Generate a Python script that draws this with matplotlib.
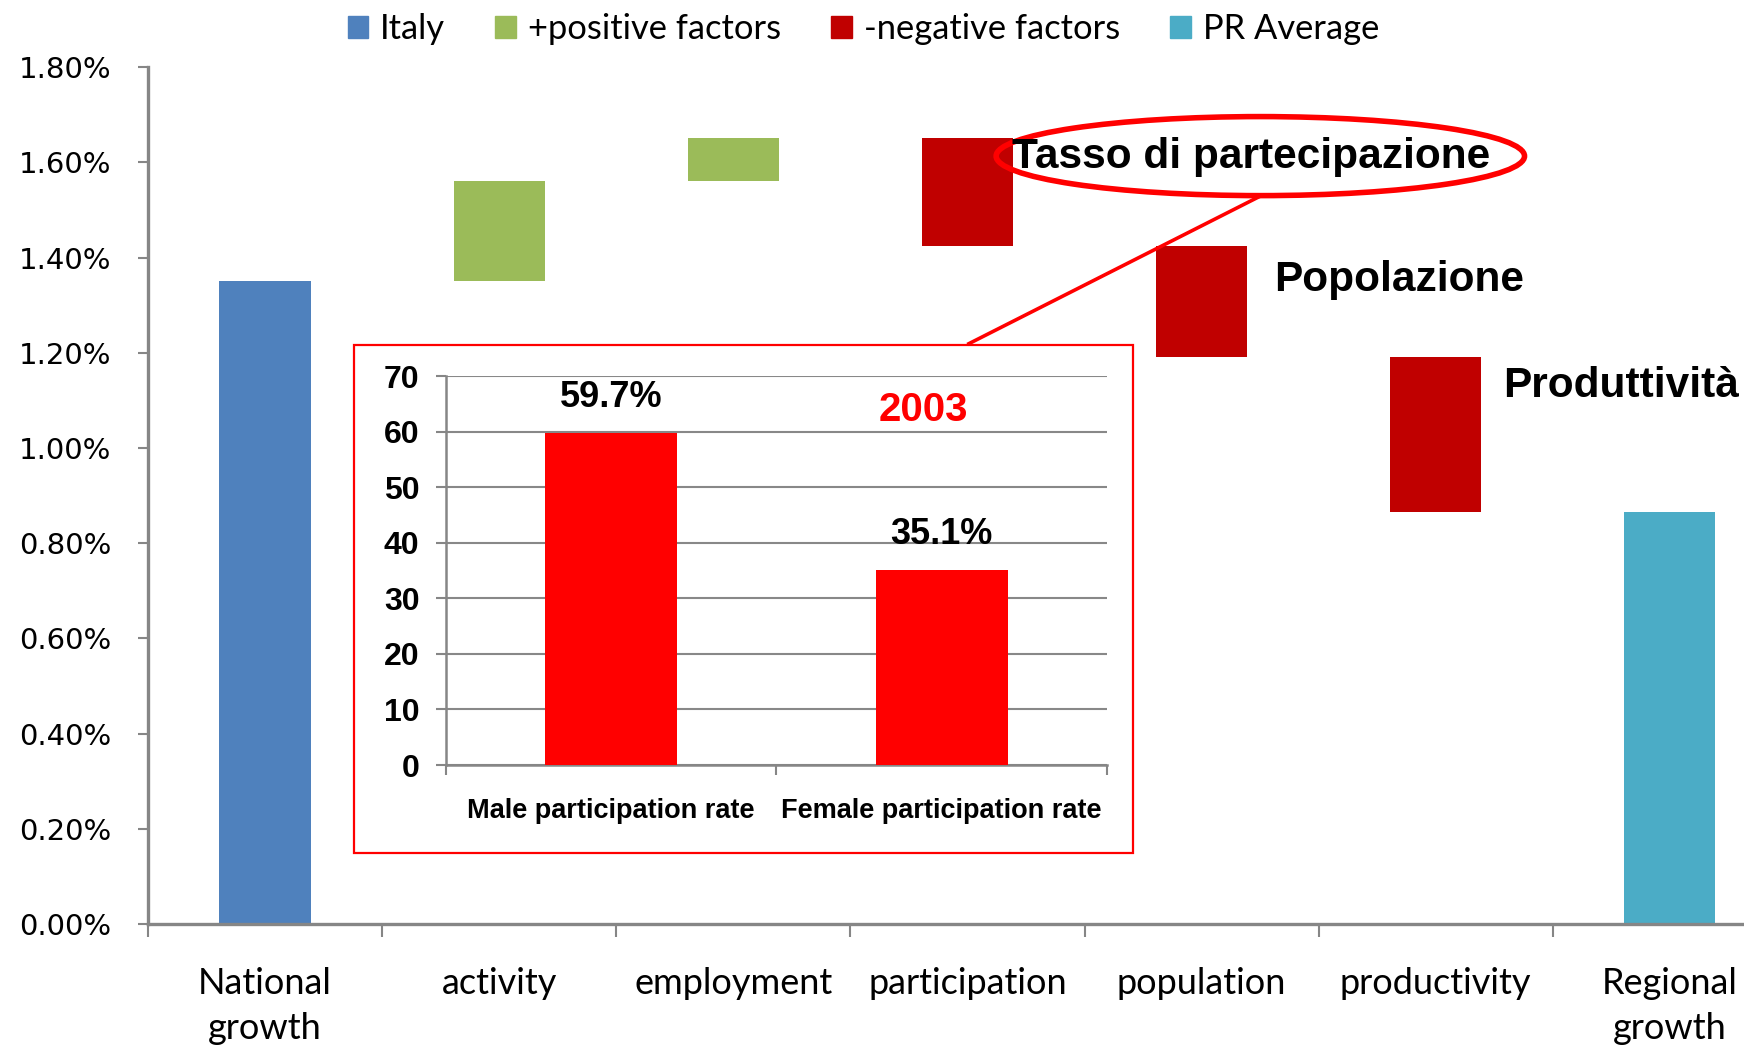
import numpy as np
import matplotlib
matplotlib.use('Agg')
import matplotlib.pyplot as plt
from matplotlib.patches import Patch, Rectangle, Ellipse

# Werte (in Prozent)
categories = ['National\ngrowth', 'activity', 'employment', 'participation',
              'population', 'productivity', 'Regional\ngrowth']
national = 1.35
changes = [0.21, 0.09, -0.225, -0.235, -0.325]
regional = 0.865

# Inset: Erwerbsquote 2003
inset_cats = ['Male participation rate', 'Female participation rate']
inset_vals = [59.7, 35.1]
inset_labels = ['59.7%', '35.1%']

c_italy = '#4F81BD'
c_pos = '#9BBB59'
c_neg = '#C00000'
c_pr = '#4BACC6'
grey = '#868686'

fig = plt.figure(figsize=(17.44, 10.48), dpi=100)
ax = fig.add_axes([0.0849, 0.1183, 0.9151, 0.8177])

w = 0.39
ax.bar(0, national, width=w, color=c_italy)
level = national
for i, c in enumerate(changes):
    ax.bar(i + 1, abs(c), bottom=min(level, level + c), width=w,
           color=c_pos if c > 0 else c_neg)
    level += c
ax.bar(6, regional, width=w, color=c_pr)

ax.set_xlim(-0.5, 6.317)
ax.set_ylim(0, 1.8)
ax.set_yticks(np.arange(0, 1.81, 0.2))
ax.set_yticklabels(['%.2f%%' % v for v in np.arange(0, 1.81, 0.2)],
                   family='DejaVu Sans', fontsize=21)
ax.set_xticks(range(7))
ax.set_xticklabels(categories, family=['Lato', 'DejaVu Sans'], fontsize=26,
                   linespacing=1.45)
ax.set_xticks(np.arange(-0.5, 6.4, 1), minor=True)
ax.tick_params(axis='x', which='major', length=0, pad=31)
ax.tick_params(axis='x', which='minor', length=9, width=1.5, color=grey)
ax.tick_params(axis='y', length=7.5, width=1.5, color=grey, pad=19)
for s in ['top', 'right']:
    ax.spines[s].set_visible(False)
for s in ['left', 'bottom']:
    ax.spines[s].set_color(grey)
    ax.spines[s].set_linewidth(2.4)

# Beschriftungen rechts
bold = dict(family=['Liberation Sans', 'DejaVu Sans'], fontweight='bold',
            fontsize=30.5, va='center', ha='left')
ax.text(3.191, 1.611, 'Tasso di partecipazione', **bold)
ax.text(4.312, 1.352, 'Popolazione', **bold)
ax.text(5.286, 1.130, 'Produttività', **bold)

ax.add_patch(Ellipse((4.251, 1.613), 2.257, 0.166, fill=False,
                     edgecolor='#FF0000', lw=4, clip_on=False))
ax.plot([4.251, 3.006], [1.529, 1.219], color='#FF0000', lw=2.6,
        clip_on=False)

# Legende
handles = [Patch(color=c_italy, label='Italy'),
           Patch(color=c_pos, label='+positive factors'),
           Patch(color=c_neg, label='-negative factors'),
           Patch(color=c_pr, label='PR Average')]
fig.legend(handles=handles, loc='center', bbox_to_anchor=(0.495, 0.972),
           ncol=4, frameon=False, prop={'family': 'Lato', 'size': 24.8},
           handlelength=0.6, handleheight=0.6, handletextpad=0.35,
           columnspacing=1.45)

# Inset
fig.add_artist(Rectangle((0.203, 0.186), 0.4467, 0.4847, fill=False,
                         edgecolor='#FF0000', lw=1.6,
                         transform=fig.transFigure))
ia = fig.add_axes([0.2557, 0.270, 0.379, 0.371])
ia.bar([0, 1], inset_vals, width=0.4, color='#FF0000', zorder=3)
ia.set_xlim(-0.5, 1.5)
ia.set_ylim(0, 70)
ia.set_yticks(range(0, 71, 10))
ia.yaxis.grid(True, color='#888888', lw=1.5)
ia.set_axisbelow(True)
ia.set_xticks([0, 1])
ia.set_xticklabels(inset_cats, family=['Liberation Sans', 'DejaVu Sans'],
                   fontweight='bold', fontsize=19.5)
ia.set_xticks([-0.5, 0.5, 1.5], minor=True)
for lab in ia.get_yticklabels():
    lab.set_family(['Liberation Sans', 'DejaVu Sans'])
    lab.set_fontweight('bold')
    lab.set_fontsize(23)
ia.tick_params(axis='x', which='major', length=0, pad=24)
ia.tick_params(axis='x', which='minor', length=7, width=1.5, color=grey)
ia.tick_params(axis='y', length=7, width=1.5, color=grey, pad=12)
for s in ['top', 'right']:
    ia.spines[s].set_visible(False)
for s in ['left', 'bottom']:
    ia.spines[s].set_color(grey)
    ia.spines[s].set_linewidth(1.8)
for x, v, t in zip([0, 1], inset_vals, inset_labels):
    ia.text(x, v + 6.4, t, ha='center', va='center', fontsize=26,
            fontweight='bold', family=['Liberation Sans', 'DejaVu Sans'])
ia.text(0.944, 64, '2003', color='#FF0000', ha='center', va='center',
        fontsize=29, fontweight='bold', family=['Liberation Sans', 'DejaVu Sans'])

fig.savefig('out.png', dpi=100)
